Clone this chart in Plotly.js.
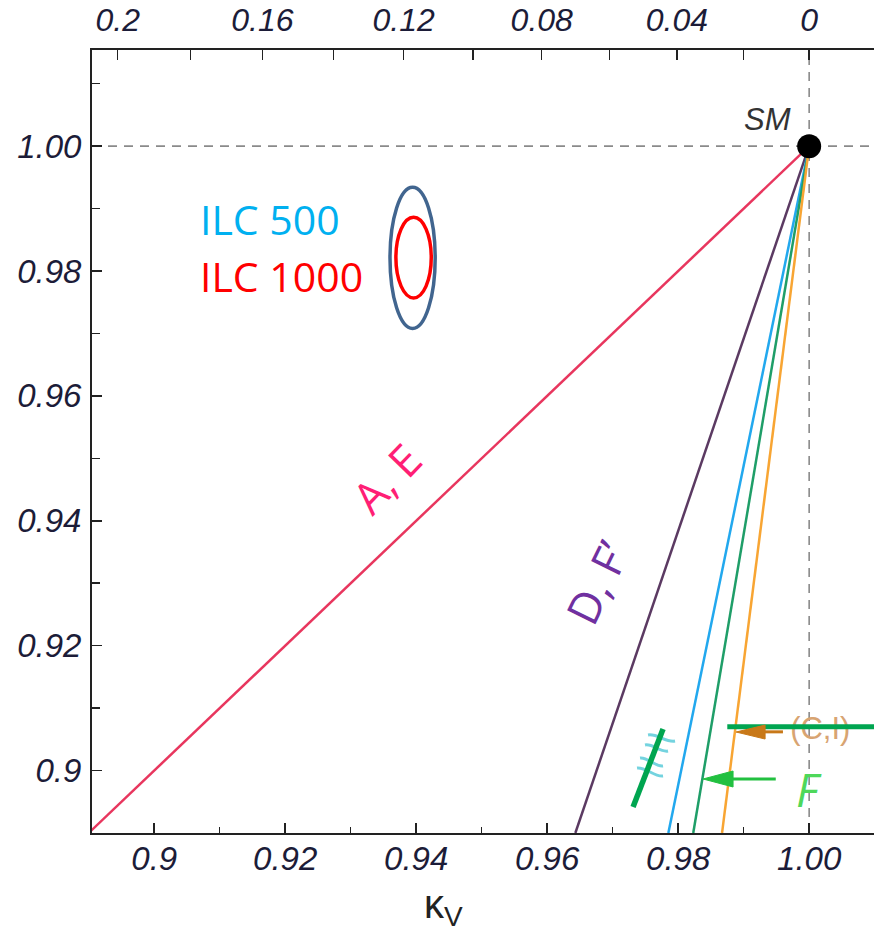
<!DOCTYPE html>
<html>
<head>
<meta charset="utf-8">
<script src="https://cdn.plot.ly/plotly-3.0.1.min.js"></script>
<style>html,body{margin:0;padding:0;background:#fff}#chart{width:874px;height:944px}</style>
</head>
<body>
<div id="chart"></div>
<script>
// ---- data ----
const aeX = [1.00, 0.88],   aeY = [1.00, 0.88];      // A, E
const dfX = [1.00, 0.9643], dfY = [1.00, 0.89];      // D, F'
const blueX = [1.00, 0.9785], blueY = [1.00, 0.89];
const greenX = [1.00, 0.9823], greenY = [1.00, 0.89]; // F
const orangeX = [1.00, 0.9867], orangeY = [1.00, 0.89]; // C, I
const smX = [1.00], smY = [1.00];

const xTickVals = [0.90, 0.92, 0.94, 0.96, 0.98, 1.00];
const xTickText = ['0.9', '0.92', '0.94', '0.96', '0.98', '1.00'];
const xMinorVals = [0.91, 0.93, 0.95, 0.97, 0.99];
const yTickVals = [0.90, 0.92, 0.94, 0.96, 0.98, 1.00];
const yTickText = ['0.9', '0.92', '0.94', '0.96', '0.98', '1.00'];
const yMinorVals = [0.91, 0.93, 0.95, 0.97, 0.99, 1.01];
const topTickVals = [0.2, 0.16, 0.12, 0.08, 0.04, 0];
const topTickText = ['0.2', '0.16', '0.12', '0.08', '0.04', '0'];
const topMinorVals = [0.18, 0.14, 0.10, 0.06, 0.02];

// ---- layout helpers ----
const xRange = [0.8905, 1.0099];
const yRange = [0.89, 1.0154];
const topPos = v => Math.sqrt(1 - v); // top axis shows 1 - kappa_V^2
const tickFont = {family: 'Liberation Sans, Arial, sans-serif', size: 33, color: '#1c1c38', style: 'italic'};

const traces = [
  {x: aeX, y: aeY, mode: 'lines', line: {color: '#e8365e', width: 2.5}, hoverinfo: 'skip'},
  {x: dfX, y: dfY, mode: 'lines', line: {color: '#5b3a62', width: 2.5}, hoverinfo: 'skip'},
  {x: blueX, y: blueY, mode: 'lines', line: {color: '#22a8ee', width: 2.5}, hoverinfo: 'skip'},
  {x: greenX, y: greenY, mode: 'lines', line: {color: '#1f9e68', width: 2.5}, hoverinfo: 'skip'},
  {x: orangeX, y: orangeY, mode: 'lines', line: {color: '#f8a533', width: 2.5}, hoverinfo: 'skip'},
  {x: [1.0017], y: [0.9063], mode: 'text', text: ['(C,I)'], textposition: 'middle center',
   textfont: {family: 'Liberation Sans, Arial, sans-serif', size: 31, color: '#d8a472'}, hoverinfo: 'skip'},
  {x: smX, y: smY, mode: 'markers', marker: {color: '#000', size: 24}, hoverinfo: 'skip'},
  {x: smX, y: smY, xaxis: 'x2', mode: 'markers', marker: {opacity: 0}, hoverinfo: 'skip'}
];

const squig = (x0, y0, x1, y1) => {
  const dx = (x1 - x0) / 3, dy = (y1 - y0) / 3, a = 0.0006;
  return `M${x0},${y0} C${x0 + dx},${y0 + dy + a} ${x0 + 2 * dx},${y0 + 2 * dy - a} ${x1},${y1}`;
};

const shapes = [
  {type: 'line', xref: 'paper', yref: 'y', x0: 0, x1: 1, y0: 1, y1: 1, layer: 'below',
   line: {color: '#8a8a8a', width: 1.6, dash: '9px,7px'}},
  {type: 'line', xref: 'x', yref: 'paper', x0: 1, x1: 1, y0: 0, y1: 1, layer: 'below',
   line: {color: '#8a8a8a', width: 1.6, dash: '9px,7px'}},
  // ILC ellipses (legend icons)
  {type: 'circle', xref: 'x', yref: 'y', x0: 0.9360, x1: 0.9429, y0: 0.9708, y1: 0.9934,
   line: {color: '#41658f', width: 3.5}},
  {type: 'circle', xref: 'x', yref: 'y', x0: 0.9369, x1: 0.9423, y0: 0.9757, y1: 0.9886,
   line: {color: '#ff0000', width: 3.5}},
  // thick green horizontal bar
  {type: 'line', xref: 'x', yref: 'y', x0: 0.9875, x1: 1.02, y0: 0.9070, y1: 0.9070, layer: 'above',
   line: {color: '#00a550', width: 5}},
  // orange arrow to (C,I)
  {type: 'line', xref: 'x', yref: 'y', x0: 0.9930, x1: 0.9960, y0: 0.9062, y1: 0.9062,
   line: {color: '#c87818', width: 3}},
  {type: 'path', xref: 'x', yref: 'y', path: 'M0.98884,0.90617 L0.99327,0.90729 L0.99327,0.90505 Z',
   fillcolor: '#c87818', line: {color: '#c87818', width: 1}},
  // green arrow to F
  {type: 'line', xref: 'x', yref: 'y', x0: 0.9880, x1: 0.9949, y0: 0.89865, y1: 0.89865,
   line: {color: '#22c040', width: 3}},
  {type: 'path', xref: 'x', yref: 'y', path: 'M0.9838,0.89865 L0.98838,0.89993 L0.98838,0.89737 Z',
   fillcolor: '#22c040', line: {color: '#22c040', width: 1}},
  // cyan squiggles
  {type: 'path', xref: 'x', yref: 'y', path: squig(0.97540, 0.90569, 0.97952, 0.90473), line: {color: 'rgba(70,196,212,0.75)', width: 3}},
  {type: 'path', xref: 'x', yref: 'y', path: squig(0.97494, 0.90409, 0.97845, 0.90313), line: {color: 'rgba(70,196,212,0.75)', width: 3}},
  {type: 'path', xref: 'x', yref: 'y', path: squig(0.97418, 0.90201, 0.97769, 0.90073), line: {color: 'rgba(70,196,212,0.75)', width: 3}},
  {type: 'path', xref: 'x', yref: 'y', path: squig(0.97372, 0.90041, 0.97769, 0.89913), line: {color: 'rgba(70,196,212,0.75)', width: 3}},
  // green slash
  {type: 'line', xref: 'x', yref: 'y', x0: 0.97311, x1: 0.97769, y0: 0.89416, y1: 0.90665,
   line: {color: '#00a550', width: 5.5}}
];

const calib = 'Open Sans, Noto Sans, sans-serif';
const annotations = [
  {xref: 'x', yref: 'y', x: 0.9936, y: 1.0042, text: 'SM', showarrow: false,
   font: {family: 'Liberation Sans, Arial, sans-serif', size: 31, color: '#333', style: 'italic'}},
  {xref: 'x', yref: 'y', x: 0.9355, y: 0.9468, text: 'A, E', showarrow: false, textangle: -46,
   font: {family: calib, size: 44, color: '#ff1f75'}},
  {xref: 'x', yref: 'y', x: 0.9676, y: 0.9302, text: 'D, F’', showarrow: false, textangle: -64,
   font: {family: calib, size: 44, color: '#7030a0'}},
  {xref: 'x', yref: 'y', x: 0.9067, y: 0.9883, text: 'ILC 500', showarrow: false, xanchor: 'left',
   font: {family: calib, size: 41, color: '#00b0f0'}},
  {xref: 'x', yref: 'y', x: 0.9067, y: 0.9792, text: 'ILC 1000', showarrow: false, xanchor: 'left',
   font: {family: calib, size: 41, color: '#ff0000'}},
  {xref: 'x', yref: 'y', x: 1.0000, y: 0.8970, text: 'F', showarrow: false,
   font: {family: calib, size: 46, color: '#4ed85a', style: 'italic'}},
  {xref: 'paper', yref: 'paper', x: 0.449, y: -0.094, xanchor: 'center', yanchor: 'middle',
   text: 'κ<sub>V</sub>', showarrow: false,
   font: {family: 'Liberation Sans, Arial, sans-serif', size: 40, color: '#222'}}
];

const layout = {
  width: 874, height: 944,
  margin: {l: 92, r: 0, t: 50, b: 111},
  paper_bgcolor: '#fff', plot_bgcolor: '#fff',
  showlegend: false,
  xaxis: {
    range: xRange, showgrid: false, zeroline: false,
    showline: true, linecolor: '#222', linewidth: 2,
    tickmode: 'array', tickvals: xTickVals, ticktext: xTickText,
    ticks: 'inside', ticklen: 10, tickwidth: 1.5, tickcolor: '#222',
    minor: {tickmode: 'array', tickvals: xMinorVals, ticks: 'inside', ticklen: 6, tickwidth: 1.5, tickcolor: '#222'},
    tickfont: tickFont, ticklabelstandoff: -5
  },
  xaxis2: {
    range: xRange, overlaying: 'x', side: 'top', anchor: 'y', showgrid: false, zeroline: false,
    showline: true, linecolor: '#222', linewidth: 2,
    tickmode: 'array', tickvals: topTickVals.map(topPos), ticktext: topTickText,
    ticks: 'inside', ticklen: 10, tickwidth: 1.5, tickcolor: '#222',
    minor: {tickmode: 'array', tickvals: topMinorVals.map(topPos), ticks: 'inside', ticklen: 10, tickwidth: 1.5, tickcolor: '#222'},
    tickfont: Object.assign({}, tickFont, {size: 32}), ticklabelstandoff: 4
  },
  yaxis: {
    range: yRange, showgrid: false, zeroline: false,
    showline: true, mirror: true, linecolor: '#222', linewidth: 2,
    tickmode: 'array', tickvals: yTickVals, ticktext: yTickText,
    ticks: 'inside', ticklen: 10, tickwidth: 1.5, tickcolor: '#222',
    minor: {tickmode: 'array', tickvals: yMinorVals, ticks: 'inside', ticklen: 8, tickwidth: 1.5, tickcolor: '#222'},
    tickfont: tickFont, ticklabelstandoff: 2
  },
  shapes: shapes,
  annotations: annotations
};

Plotly.newPlot('chart', traces, layout, {displayModeBar: false, staticPlot: true});
</script>
</body>
</html>
